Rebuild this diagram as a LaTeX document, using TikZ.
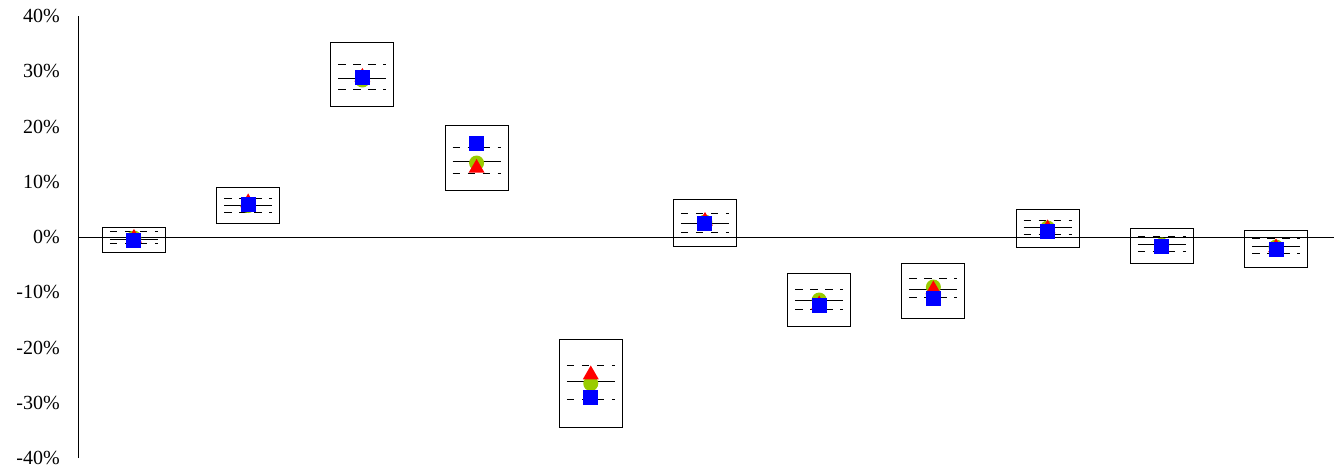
\documentclass[tikz,border=0pt]{standalone}
\usepackage{fontspec}
\setmainfont{Liberation Serif}
\usepackage{tikz}
\usetikzlibrary{shapes.geometric}

\definecolor{mkgreen}{RGB}{153,204,0}
\definecolor{mkred}{RGB}{255,0,0}
\definecolor{mkblue}{RGB}{0,0,255}

\begin{document}
\begin{tikzpicture}[
    x=114.2pt, y=5.525pt,
    axisline/.style={line width=0.8pt},
    ticklabel/.style={anchor=east, inner sep=0pt, font=\fontsize{20}{24}\selectfont},
    rangebox/.style={draw, line width=1pt},
    meanline/.style={line width=1pt},
    limitline/.style={line width=1pt, dash pattern=on 7.5pt off 7.5pt},
    greenmark/.style={circle, fill=mkgreen, inner sep=0pt, minimum size=15pt},
    redmark/.style={regular polygon, regular polygon sides=3, fill=mkred, inner sep=0pt, minimum size=18.4pt},
    bluemark/.style={rectangle, fill=mkblue, inner sep=0pt, minimum size=15pt}
  ]
    \useasboundingbox (-0.683,-41.63) rectangle (11.068,42.9);

    % axes
    \draw[axisline] (0,-40) -- (0,40);
    \draw[axisline] (0,0) -- (11.0,0);
    \foreach \v in {-40,-30,...,40}
        \node[ticklabel] (lab\v) at (-0.158,\v) {\v\%};

    % one box per group: top, bottom, upper limit, mean, lower limit, markers
    \foreach \i/\bt/\bb/\dt/\m/\db/\g/\r/\b in {
        1/1.76/-2.84/0.96/-0.36/-1.09/-0.18/-0.2/-0.54,
        2/9.05/2.53/7.06/5.79/4.52/5.70/6.23/5.88,
        3/35.24/23.58/31.26/28.72/26.79/28.42/28.94/28.96,
        4/20.27/8.38/16.24/13.63/11.53/13.39/12.47/16.92,
        5/-18.46/-34.44/-23.29/-26.06/-29.45/-26.52/-24.91/-29.05,
        6/6.88/-1.63/4.22/2.41/0.90/2.71/2.88/2.44,
        7/-6.52/-16.11/-9.41/-11.40/-13.09/-11.40/-12.24/-12.31,
        8/-4.76/-14.71/-7.48/-9.47/-10.99/-9.05/-9.52/-11.13,
        9/4.94/-1.86/2.95/1.76/0.42/1.63/1.52/1.09,
        10/1.57/-4.76/0.05/-1.32/-2.66/-1.45/-1.92/-1.72,
        11/1.21/-5.43/-0.18/-1.68/-3.02/-1.81/-1.92/-2.17}
    {
        \pgfmathsetmacro{\x}{\i-0.51}
        \draw[rangebox] ([xshift=-31.5pt]\x,\bt) rectangle ([xshift=31.5pt]\x,\bb);
        \draw[limitline] ([xshift=-24pt]\x,\dt) -- ([xshift=24pt]\x,\dt);
        \draw[meanline] ([xshift=-24pt]\x,\m) -- ([xshift=24pt]\x,\m);
        \draw[limitline] ([xshift=-24pt]\x,\db) -- ([xshift=24pt]\x,\db);
        \node[greenmark] (g\i) at (\x,\g) {};
        \node[redmark] (r\i) at (\x,\r) {};
        \node[bluemark] (b\i) at (\x,\b) {};
    }
\end{tikzpicture}
\end{document}
